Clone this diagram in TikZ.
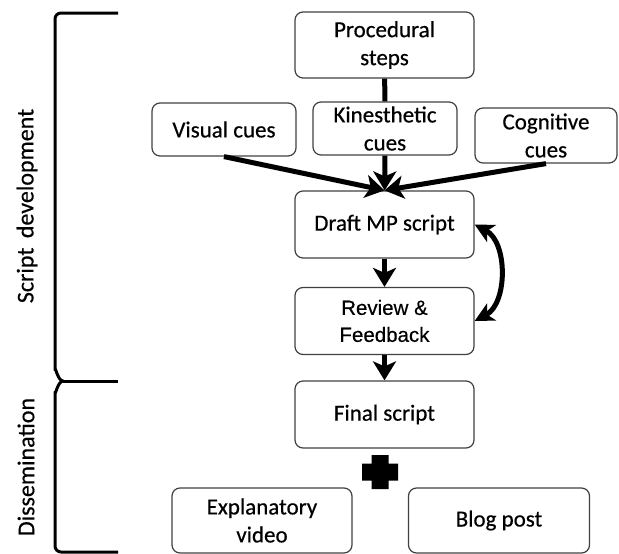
\documentclass[tikz,border=0pt]{standalone}
\usepackage{fontspec}
\setmainfont{Carlito}[FakeBold=0.5]
\newfontfamily\arialfont{Liberation Sans}[FakeBold=0.4]
\usetikzlibrary{arrows.meta,positioning}

\tikzset{
  box/.style={draw=black!75, line width=1.2pt, rounded corners=8pt, align=center,
    inner sep=0pt, font=\fontsize{23}{28}\selectfont},
  wide/.style={box, minimum width=179pt, minimum height=67pt},
  cue/.style={box, minimum width=144pt, minimum height=53pt},
  flow/.style={line width=5pt, -{Stealth[width=23pt,length=19pt,inset=5pt]}},
  feed/.style={line width=5pt, {Stealth[width=19pt,length=19pt,inset=5pt]}-{Stealth[width=19pt,length=19pt,inset=5pt]}},
  brace/.style={line width=3pt, line join=round},
  side/.style={rotate=90, font=\fontsize{24}{28}\selectfont},
}

\begin{document}
\begin{tikzpicture}[x=1pt,y=-1pt]
  \useasboundingbox (0,0) rectangle (619,554);

  \node[wide, minimum height=66pt] (proc) at (384.5,45) {Procedural\\steps};
  \node[cue] (visual) at (224,129.5) {Visual cues};
  \node[cue] (kin) at (385,128.5) {Kinesthetic\\cues};
  \node[cue, minimum width=142pt, minimum height=55pt] (cog) at (546,135.5) {Cognitive\\cues};
  \node[wide] (draft) at (384.5,224.5) {Draft MP script};
  \node[wide, font=\arialfont\fontsize{20.5}{27}\selectfont] (review) at (384.5,321) {Review \&\\Feedback};
  \node[wide] (final) at (384.5,414.5) {Final script};
  \node[wide, minimum width=180pt, minimum height=65pt] (video) at (262,520.5) {Explanatory\\video};
  \node[wide, minimum width=181pt, minimum height=65pt] (blog) at (499,520.5) {Blog post};

  \draw[line width=5pt] (proc) -- (kin);
  \draw[flow] (visual.south) -- (draft.north);
  \draw[flow] (cog.south) -- (draft.north);
  \draw[flow] (kin) -- (draft);
  \draw[flow] (draft) -- (review);
  \draw[flow] (review) -- (final);
  \draw[feed] (draft.east) to[bend left=62] (review.east);

  % plus between final script and the two outputs
  \coordinate (plus) at (380,472);
  \fill ([shift={(-8.5,-17)}]plus) -- ++(17,0) -- ++(0,8.5) -- ++(9.5,0) -- ++(0,17)
    -- ++(-9.5,0) -- ++(0,8.5) -- ++(-17,0) -- ++(0,-8.5) -- ++(-9.5,0) -- ++(0,-17)
    -- ++(9.5,0) -- cycle;

  \draw[brace] (118,13) -- (61,13) to[out=180,in=90] (55,19) -- (55,370)
    to[out=90,in=180] (63,381) to[out=180,in=-90] (55,392) -- (55,546)
    to[out=-90,in=180] (61,552) -- (118,552);
  \draw[brace] (63,381) -- (118,381);

  \node[side] (scriptdev) at (27,206) {Script\hspace{4pt} development};
  \node[side] (dissem) at (26,467) {Dissemination};
\end{tikzpicture}
\end{document}
